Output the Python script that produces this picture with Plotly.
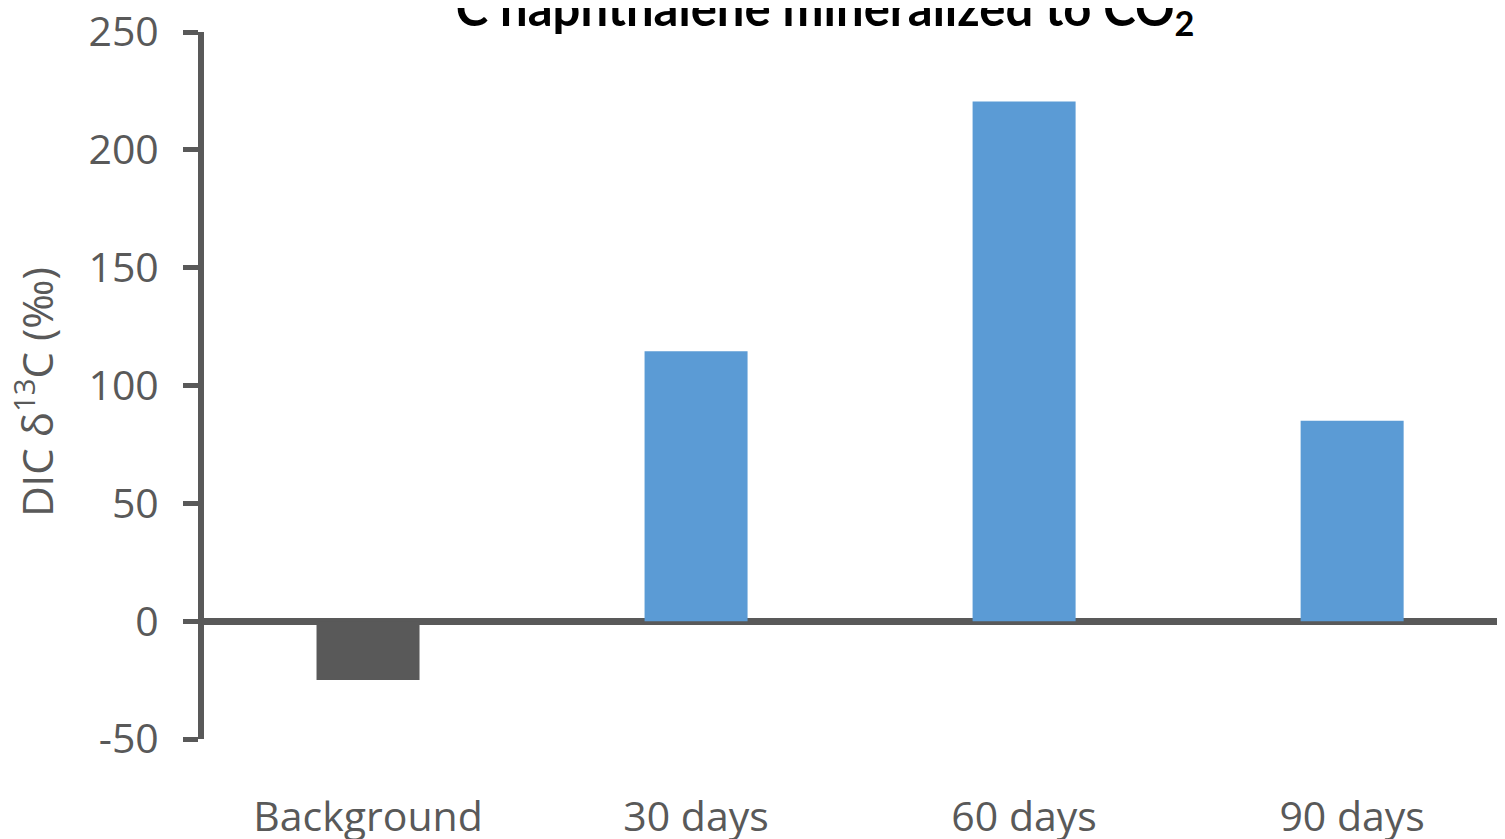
import plotly.graph_objects as go

categories = ["Background", "30 days", "60 days", "90 days"]
values = [-25, 114.5, 220.5, 85]
bar_colors = ["#595959", "#5B9BD5", "#5B9BD5", "#5B9BD5"]
y_ticks = [-50, 0, 50, 100, 150, 200, 250]
y_tick_labels = ["-50", "0", "50", "100", "150", "200", "250"]

AX = "#595959"
FONT = "Open Sans"

fig = go.Figure()
fig.add_trace(go.Bar(x=categories, y=values, marker=dict(color=bar_colors, line=dict(width=0)),
                     showlegend=False))

fig.update_layout(
    width=1505, height=839,
    margin=dict(l=196, r=8, t=24, b=108),
    plot_bgcolor="white", paper_bgcolor="white",
    bargap=0.686,
    font=dict(family=FONT, color=AX),
    xaxis=dict(range=[-0.5, 3.466], showgrid=False, showline=False, zeroline=False, automargin=False,
               ticks="", tickfont=dict(size=41, color=AX, family=FONT), ticklabelstandoff=50,
               ticklabeloverflow="allow"),
    yaxis=dict(range=[-50, 250], tickvals=y_ticks, ticktext=y_tick_labels, showgrid=False,
               automargin=False, ticklabeloverflow="allow",
               showline=True, linewidth=6, linecolor=AX,
               zeroline=True, zerolinewidth=7, zerolinecolor=AX,
               ticks="outside", ticklen=15, tickwidth=5, tickcolor=AX,
               ticklabelstandoff=16,
               tickfont=dict(size=41, color=AX, family=FONT),
               layer="above traces"),
)

fig.add_annotation(text="DIC δ<sup>13</sup>C (‰)", textangle=-90,
                   xref="paper", yref="paper", x=-0.1299, y=0.491, xanchor="center", yanchor="middle",
                   showarrow=False, font=dict(size=42, color=AX, family=FONT))

fig.add_annotation(text="<b><sup>13</sup>C naphthalene mineralized to CO<sub>2</sub></b>",
                   xref="paper", yref="paper", x=0.462, y=1, xanchor="center", yanchor="bottom",
                   yshift=-13, showarrow=False, font=dict(size=49, color="black", family="Lato"))

fig.write_html("out.html")
